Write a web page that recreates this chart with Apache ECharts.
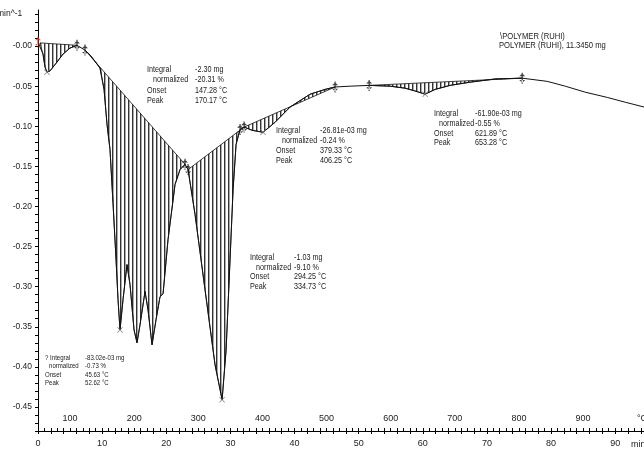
<!DOCTYPE html>
<html>
<head>
<meta charset="utf-8">
<script src="https://cdn.jsdelivr.net/npm/echarts@6/dist/echarts.min.js"></script>
<style>html,body{margin:0;padding:0;background:#fff;}#c{width:644px;height:450px;}</style>
</head>
<body>
<div id="c"></div>
<script>
// ---- tick labels ----
const timeTicks = [0, 10, 20, 30, 40, 50, 60, 70, 80, 90];
const tempTicks = [100, 200, 300, 400, 500, 600, 700, 800, 900];
const yTickValues = [0, -0.05, -0.10, -0.15, -0.20, -0.25, -0.30, -0.35, -0.40, -0.45];
const yTickLabels = ['-0.00', '-0.05', '-0.10', '-0.15', '-0.20', '-0.25', '-0.30', '-0.35', '-0.40', '-0.45'];

// ---- DTG curve (time in min, value in min^-1) ----
const curveT = [0, 0.31, 0.78, 1.09, 1.40, 1.87, 2.96, 3.90, 4.99, 6.08, 7.33, 8.11, 8.89, 9.67, 10.30, 10.76, 11.23, 11.70, 12.17, 12.48, 12.79,
  13.26, 13.88, 14.35, 14.98, 15.44, 15.91, 16.69, 17.16, 17.78, 18.41, 19.03, 19.50, 20.28, 21.37, 22.15, 22.93, 23.40, 24.49, 26.05,
  27.61, 28.71, 29.33, 29.95, 30.42, 30.89, 31.51, 32.14, 33.39, 35.10, 36.97, 39.31, 42.43, 44.77, 46.33, 48.67, 51.64, 54.91, 57.25,
  58.81, 60.37, 61.93, 64.27, 67.39, 71.29, 75.51, 79.41, 82.22, 85.34, 88.77, 91.58, 94.5];
const curveV = [0.005, 0.004, -0.010, -0.026, -0.0325, -0.031, -0.020, -0.010, -0.0025, 0.001, -0.005, -0.011, -0.019, -0.0275, -0.054, -0.0975, -0.129, -0.196, -0.266, -0.316, -0.354,
  -0.316, -0.2725, -0.2975, -0.354, -0.370, -0.3475, -0.306, -0.329, -0.3725, -0.341, -0.3125, -0.309, -0.241, -0.1725, -0.154, -0.1475, -0.154, -0.21, -0.304,
  -0.3975, -0.441, -0.379, -0.266, -0.179, -0.1225, -0.104, -0.101, -0.105, -0.1075, -0.095, -0.076, -0.060, -0.054, -0.051, -0.050, -0.049, -0.050, -0.0525,
  -0.056, -0.060, -0.054, -0.049, -0.045, -0.041, -0.040, -0.044, -0.050, -0.0575, -0.064, -0.070, -0.076];

// ---- integration regions (time limits, min) ----
const regionStart = [0.31, 7.33, 23.40, 32.14, 51.64];
const regionEnd = [6.08, 22.93, 32.14, 46.33, 75.51];

// ---- limit markers & peak markers ----
const limitT = [0, 6.08, 7.33, 22.93, 23.40, 31.51, 32.14, 46.33, 51.64, 75.51];
const limitV = [0.005, 0.001, -0.005, -0.1475, -0.154, -0.104, -0.101, -0.051, -0.049, -0.040];
const peakT = [1.40, 12.79, 28.71, 35.10, 60.37];
const peakV = [-0.0325, -0.354, -0.441, -0.1075, -0.060];

// ---- annotation texts ----
const annLabels = ['Integral', 'normalized', 'Onset', 'Peak'];
const annValues = [
  ['-2.30 mg', '-20.31 %', '147.28 °C', '170.17 °C'],
  ['-26.81e-03 mg', '-0.24 %', '379.33 °C', '406.25 °C'],
  ['-61.90e-03 mg', '-0.55 %', '621.89 °C', '653.28 °C'],
  ['-1.03 mg', '-9.10 %', '294.25 °C', '334.73 °C']
];
const smallLabels = ['? Integral', 'normalized', 'Onset', 'Peak'];
const smallValues = ['-83.02e-03 mg', '-0.73 %', '45.63 °C', '52.62 °C'];
const titleLines = ['\\POLYMER (RUHI)', 'POLYMER (RUHI), 11.3450 mg'];

const chart = echarts.init(document.getElementById('c'), null, {renderer: 'canvas'});

// hatch pattern (vertical lines)
const pc = document.createElement('canvas');
pc.width = 4; pc.height = 4;
const pctx = pc.getContext('2d');
pctx.fillStyle = '#fff'; pctx.fillRect(0, 0, 4, 4);
pctx.fillStyle = '#333'; pctx.fillRect(0, 0, 1, 4);
pctx.fillStyle = '#aaa'; pctx.fillRect(1, 0, 1, 4);
const hatch = {image: pc, repeat: 'repeat'};

const FONT = '"Liberation Sans", Arial, sans-serif';
const TXT = '#222';

function txt(x, y, s, size, sx) {
  return {type: 'text', x: x, y: y, silent: true, scaleX: sx || 1,
    style: {text: s, font: (size || 8.5) + 'px ' + FONT, fill: TXT, verticalAlign: 'middle', align: 'left'}};
}
const graphics = [];
// block positions (layout)
const blocks = [
  {lx: 147, nx: 153, vx: 195, y: [70, 80, 90.5, 100.5]},
  {lx: 276, nx: 282, vx: 320, y: [131, 141, 151, 160.5]},
  {lx: 434, nx: 439, vx: 475, y: [114, 123.5, 133.5, 143]},
  {lx: 250, nx: 256, vx: 294, y: [258, 267.5, 277, 286.5]}
];
const SX = 0.8;
blocks.forEach((b, i) => {
  annLabels.forEach((l, r) => {
    graphics.push(txt(r === 1 ? b.nx : b.lx, b.y[r], l, 9, SX));
    graphics.push(txt(b.vx, b.y[r], annValues[i][r], 9, SX));
  });
});
const sy = [358, 366.5, 375, 383];
smallLabels.forEach((l, r) => {
  graphics.push(txt(r === 1 ? 49 : 45, sy[r], l, 6.4, 0.95));
  graphics.push(txt(85, sy[r], smallValues[r], 6.4, 0.95));
});
graphics.push(txt(500, 37, titleLines[0], 8.5, 0.9));
graphics.push(txt(499, 46, titleLines[1], 8.5, 0.9));
graphics.push(txt(-3, 14, 'min^-1', 8.5));
graphics.push(txt(637, 419, '°C', 9));
graphics.push(txt(631, 445, 'min', 9));

const curveData = curveT.map((t, i) => [t, curveV[i]]);

const option = {
  backgroundColor: '#fff',
  animation: false,
  grid: {left: 38, right: 0, top: 10, bottom: 19, containLabel: false},
  xAxis: [
    {
      type: 'value', min: 0, max: 94.5, interval: 2, position: 'bottom',
      axisLine: {show: true, onZero: false, lineStyle: {color: '#000', width: 1}},
      axisTick: {show: true, inside: false, length: 3, lineStyle: {color: '#000'}},
      splitLine: {show: false},
      axisLabel: {
        show: true, margin: 8, fontSize: 9, fontFamily: FONT, color: TXT, showMaxLabel: false,
        formatter: v => {
          const r = Math.round(v);
          return (Math.abs(v - r) < 1e-6 && timeTicks.indexOf(r) >= 0) ? String(r) : '';
        }
      }
    },
    {
      type: 'value', min: 0, max: 94.5, interval: 1, position: 'bottom',
      axisLine: {show: false, onZero: false},
      axisTick: {show: true, inside: true, length: 3, lineStyle: {color: '#000'}},
      splitLine: {show: false},
      axisLabel: {
        show: true, inside: true, margin: 8, fontSize: 9, fontFamily: FONT, color: TXT, showMaxLabel: false,
        formatter: v => {
          const r = Math.round(v);
          if (Math.abs(v - r) > 1e-6) return '';
          const T = 50 + 10 * r;
          return tempTicks.indexOf(T) >= 0 ? String(T) : '';
        }
      }
    }
  ],
  yAxis: {
    type: 'value', min: -0.48, max: 0.045, interval: 0.01,
    axisLine: {show: true, onZero: false, lineStyle: {color: '#000', width: 1}},
    axisTick: {show: true, inside: false, length: 3, lineStyle: {color: '#000'}},
    splitLine: {show: false},
    axisLabel: {
      show: true, margin: 6, fontSize: 8.5, fontFamily: FONT, color: TXT, showMaxLabel: false,
      formatter: v => {
        for (let i = 0; i < yTickValues.length; i++) {
          if (Math.abs(v - yTickValues[i]) < 1e-6) return yTickLabels[i];
        }
        return '';
      }
    }
  },
  graphic: graphics,
  series: [
    {
      type: 'custom', xAxisIndex: 0, yAxisIndex: 0, silent: true, z: 1,
      data: regionStart.map((s, i) => [i]),
      encode: {x: -1, y: -1},
      renderItem: function (params, api) {
        const i = api.value(0);
        const s = regionStart[i], e = regionEnd[i];
        const pts = [];
        for (let k = 0; k < curveT.length; k++) {
          if (curveT[k] >= s - 1e-9 && curveT[k] <= e + 1e-9) pts.push(api.coord([curveT[k], curveV[k]]));
        }
        return {
          type: 'polygon',
          shape: {points: pts},
          style: {fill: hatch, stroke: '#111', lineWidth: 0.8}
        };
      }
    },
    {
      type: 'line', xAxisIndex: 0, yAxisIndex: 0, data: curveData, showSymbol: false, symbol: 'none',
      lineStyle: {color: '#111', width: 1}, z: 3, silent: true
    },
    {
      type: 'scatter', xAxisIndex: 0, yAxisIndex: 0, z: 4, silent: true,
      symbol: 'path://M4.4,0 L5.6,0 L5.6,12 L4.4,12 Z M2,4 L5,1 L8,4 Z M2,8 L5,11 L8,8 Z',
      symbolSize: [6, 11],
      data: limitT.map((t, i) => ({value: [t, limitV[i]], itemStyle: {color: i === 0 ? '#c0392b' : '#111'}}))
    },
    {
      type: 'scatter', xAxisIndex: 0, yAxisIndex: 0, z: 4, silent: true,
      symbol: 'path://M0,1 L1,0 L5,4 L9,0 L10,1 L6,5 L10,9 L9,10 L5,6 L1,10 L0,9 L4,5 Z',
      symbolSize: 6,
      itemStyle: {color: '#777'},
      data: peakT.map((t, i) => [t, peakV[i]])
    }
  ]
};
chart.setOption(option);
</script>
</body>
</html>
